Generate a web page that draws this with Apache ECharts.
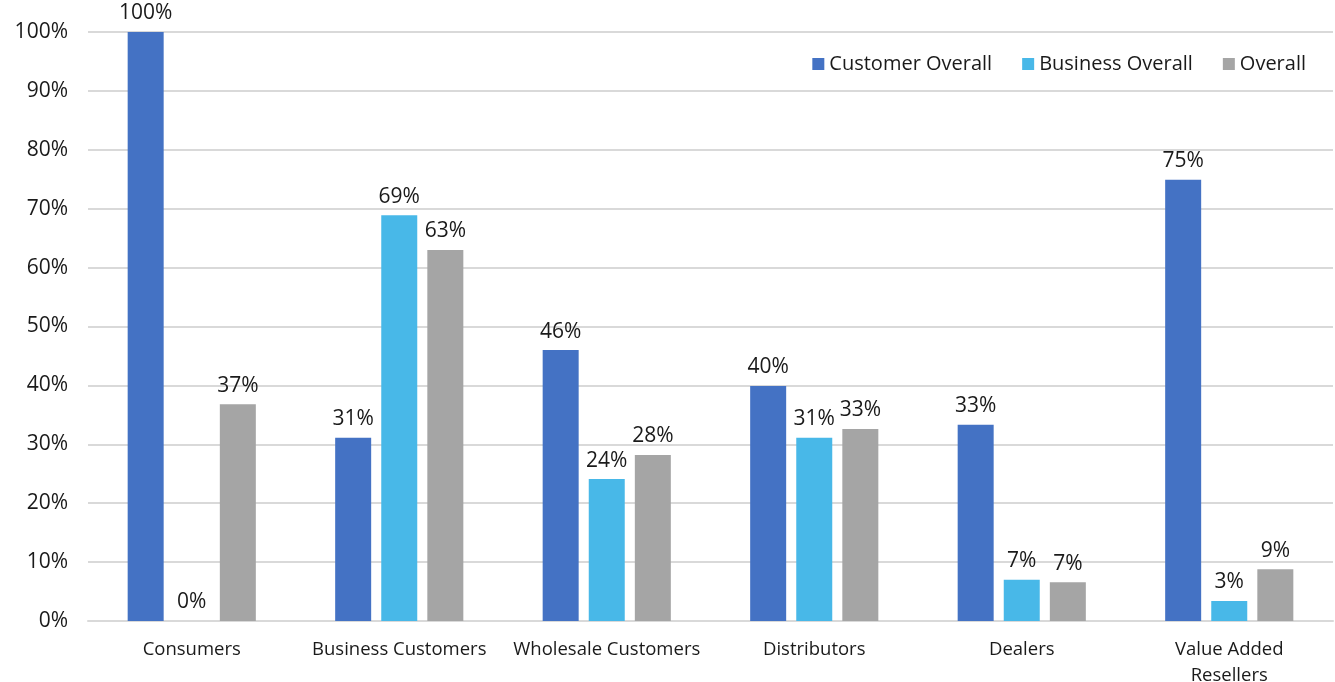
<!DOCTYPE html>
<html>
<head>
<meta charset="utf-8">
<style>
  html, body { margin: 0; padding: 0; background: #fff; }
  #chart { width: 1335px; height: 682px; }
</style>
<script src="https://cdn.jsdelivr.net/npm/echarts@6/dist/echarts.min.js"></script>
</head>
<body>
<div id="chart"></div>
<script>
// Share of each channel type, by customer segment (percent)
const categories = ['Consumers', 'Business Customers', 'Wholesale Customers', 'Distributors', 'Dealers', 'Value Added\nResellers'];
const customerOverall = [100, 31.1, 46.0, 39.9, 33.3, 74.9];
const businessOverall = [0, 68.9, 24.1, 31.1, 7.0, 3.4];
const overall = [36.8, 63.0, 28.2, 32.6, 6.6, 8.8];
const yTicks = [0, 10, 20, 30, 40, 50, 60, 70, 80, 90, 100];

const FONT = '"Open Sans", "DejaVu Sans", sans-serif';
const TEXT = '#1a1a1a';

function barSeries(name, data, color) {
  return {
    name: name,
    type: 'bar',
    data: data,
    barWidth: 36,
    barGap: '28%',
    itemStyle: { color: color },
    label: {
      show: true,
      position: 'top',
      distance: 8,
      color: TEXT,
      fontFamily: FONT,
      fontSize: 21,
      formatter: p => Math.round(p.value) + '%'
    }
  };
}

const chart = echarts.init(document.getElementById('chart'));
chart.setOption({
  animation: false,
  backgroundColor: '#fff',
  grid: { left: 88, right: 2, top: 32, bottom: 61, outerBoundsMode: 'none', containLabel: false },
  legend: {
    top: 49,
    right: 24,
    itemWidth: 12,
    itemHeight: 12,
    itemGap: 30,
    icon: 'rect',
    textStyle: { color: TEXT, fontFamily: FONT, fontSize: 20 },
    data: ['Customer Overall', 'Business Overall', 'Overall']
  },
  xAxis: {
    type: 'category',
    data: categories,
    axisLine: { show: true, lineStyle: { color: '#d9d9d9', width: 2 } },
    axisTick: { show: false },
    axisLabel: {
      color: TEXT,
      fontFamily: FONT,
      fontSize: 18.5,
      margin: 16,
      lineHeight: 26,
      interval: 0
    }
  },
  yAxis: {
    type: 'value',
    min: yTicks[0],
    max: yTicks[yTicks.length - 1],
    interval: 10,
    axisLine: { show: false },
    axisTick: { show: false },
    splitLine: { lineStyle: { color: '#d9d9d9', width: 2 } },
    axisLabel: {
      color: TEXT,
      fontFamily: FONT,
      fontSize: 21,
      margin: 20,
      formatter: v => v + '%'
    }
  },
  series: [
    barSeries('Customer Overall', customerOverall, '#4472C4'),
    barSeries('Business Overall', businessOverall, '#48B8E8'),
    barSeries('Overall', overall, '#A5A5A5')
  ]
});
</script>
</body>
</html>
